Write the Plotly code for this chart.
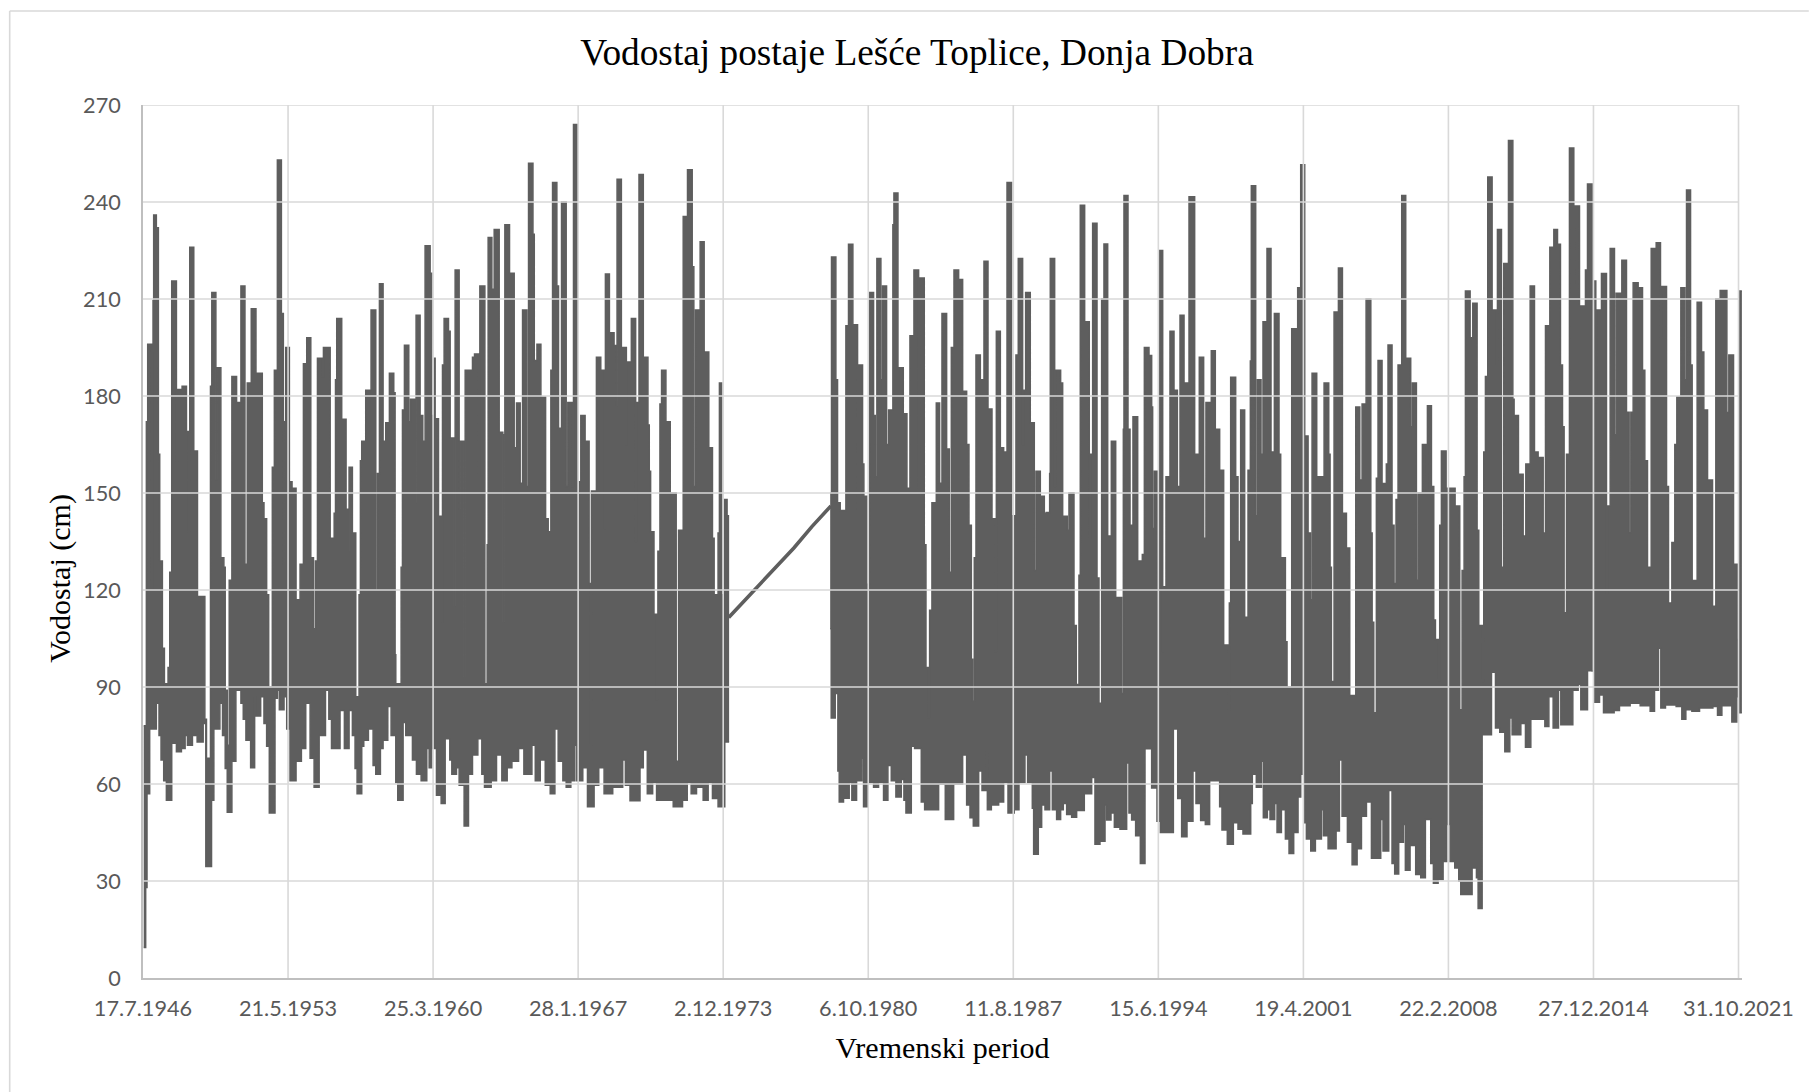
import plotly.graph_objects as go

# Days since 17.7.1946, water level (cm): outline of the dense daily record
upper_1946_1973 = [
(12,78),(58,172),(81,196),(150,120),(167,194),(173,209.5),(184,236),(230,232),(265,162),(288,129),(334,102),(369,91),
(432,96),(461,125.5),(495,215.6),(576,160),(593,182),(674,183),(749,169),(783,138),(806,226),(875,163),(939,118),
(1066,80),(1094,68),(1163,183),(1186,212),(1256,154),(1279,188.7),(1342,130),(1394,127),(1417,89),(1452,72),(1486,123),
(1532,186),(1613,178),(1688,214),(1757,128),(1797,184),(1866,207),(1947,187),(2056,147),(2085,142),(2131,118.5),
(2166,90),(2229,158),(2264,188),(2316,253),(2385,205.5),(2419,128),(2431,172),(2460,195),(2523,153.5),(2569,151.5),
(2638,117),(2707,128),(2765,190),(2822,198),(2892,130),(2938,108),(2972,129),(3007,191.7),(3087,186),(3110,195),
(3226,136),(3295,143.7),(3318,185),
(3339,204),(3425,172.8),(3500,145),(3529,132),(3552,158),(3609,137.6),(3667,87),(3724,118.5),(3747,160),(3770,166),
(3839,181.8),(3931,206.6),(4012,120),(4040,156),(4075,214.7),(4138,166),(4184,171.7),(4247,187),(4322,181),(4345,100),
(4357,91),(4449,127),(4472,175.7),(4506,195.7),(4581,172),(4610,179),(4684,147),(4707,205),(4776,174),(4822,166),
(4862,226.5),(4949,218),(4978,174),(5018,191.7),(5035,173),(5093,142.8),(5150,110),(5162,189.6),(5190,204),(5265,200),
(5294,167),(5357,115),(5380,219),(5449,145),(5466,166),(5530,93),(5553,188),(5679,192),(5714,193),(5783,155),(5806,214),
(5892,91),(5932,134),(5949,229),(6013,213),(6053,231.5),(6139,168.8),(6202,110),(6225,168),(6237,233),(6317,218),
(6398,164),(6438,177.8),(6501,153),(6542,206.6),(6616,152),(6645,252),
(6721,230),(6744,191),(6790,196),(6858,179.7),(6939,142),(6984,138),(7030,188),(7059,246),(7133,214),(7162,170),
(7214,240),(7294,152),(7322,178),(7403,152),(7420,264),(7483,153.5),(7546,174),(7620,166),(7689,122),(7706,72),
(7729,150.6),(7815,192),(7890,188),(7947,139),(7970,217.7),(8039,199.6),(8119,195.6),(8153,177),(8171,247),(8245,195),
(8331,165),(8342,190.5),(8417,204),(8491,135),(8509,178),(8549,248.5),(8623,192),(8703,171),(8726,156.7),(8749,138),
(8807,112.5),(8852,86),(8875,132),(8910,177.5),(8938,188),(9013,172),(9087,142),(9105,150),(9190,67),(9231,138.5),
(9311,235.5),(9385,250),(9466,220),(9494,152),(9523,206.6),(9603,227.7),(9672,193.6),(9752,164),(9815,136),(9844,118.5),
(9912,137.6),(9935,184),(9975,118.5),(10010,148),(10067,143),(10090,113),(10102,113),
]
lower_1946_1973 = [
(12,9.4),(46,28),(69,57),(115,77),(230,85),(276,75),(311,67.4),(357,61),(403,55),(495,72.6),(576,70),(662,71),(726,75),
(766,72),(852,75),(933,73),(1037,78.7),(1083,34.5),(1181,55),(1221,77),(1325,85),(1371,75),(1417,64.8),(1452,51.3),
(1532,67),(1601,89),(1688,85),(1728,80),(1774,73.5),(1855,65),(1924,87),(1947,81),(2028,87),(2085,78.7),(2131,71.7),
(2177,51),(2275,86.5),(2316,89),(2350,83),(2431,87),(2477,77),(2534,61),(2638,67),(2730,71),(2805,85),(2880,68),
(2949,59),(3036,75),(3145,89),(3203,80),(3249,71),
(3396,82.7),(3471,71),(3552,82.7),(3609,75),(3655,64.8),(3690,57),(3770,71.7),(3805,73.5),(3885,77),(3966,65.7),
(4012,63),(4092,71),(4138,73.5),(4219,84),(4276,75),(4357,60.5),(4391,55),(4483,79),(4529,75),(4644,67.4),(4713,63),
(4794,61),(4891,71),(4932,65),(4978,71),(5058,56.5),(5139,54),(5208,74),(5288,67.4),(5323,63),(5403,65),(5449,59.6),
(5535,47),(5610,63),(5679,69),(5771,74),(5840,63),(5886,59),(6001,61),(6093,69),(6185,61),(6277,65),(6358,67),(6473,71),
(6565,63),(6703,72),
(6761,61),(6847,67.4),(6933,59.6),(7019,57),(7099,77),(7156,67),(7237,61),(7294,59),(7374,61),(7443,72),(7477,61),
(7580,65),(7661,53),(7775,59.6),(7855,65),(7947,57),(8096,59),(8268,67.4),(8314,59.6),(8394,54.8),(8566,65),(8623,70.5),
(8692,57),(8784,60.5),(8852,55),(9139,53),(9299,55),(9380,60.5),(9448,57),(9540,59),(9655,55),(9741,60.5),(9815,55.5),
(9912,53),(10027,73),(10102,73),
]
# Thin stretch across the missing years
gap_days = [10095, 10546, 10908, 11218, 11529, 11857]
gap_levels = [111.5, 120, 127, 133, 139.6, 146]

upper_1978_2021 = [
(11844,150),(11867,223),(11942,185),(11971,147),(12017,144.6),(12115,201.7),(12160,226.9),(12235,202),(12316,145),
(12333,189.6),(12402,159),(12425,149),(12477,121.8),(12523,212),(12592,174),(12621,155),(12649,222.5),(12718,185),
(12747,214),(12816,165),(12851,175.7),(12925,233),(12943,242.8),(13012,188.7),(13104,174.5),(13167,151.5),(13219,198.6),
(13288,219),(13368,151.5),(13391,216.5),(13466,134),(13495,96),(13535,80.4),(13558,113.7),(13598,147),(13673,177.8),
(13730,153),(13771,205.5),(13851,163.6),(13897,125.5),(13932,195),(13978,219),(14058,216),(14127,181.5),(14196,165),
(14236,140),(14277,98.6),(14300,85.6),(14328,130),(14357,192.7),(14432,185),(14495,221.7),(14564,176),(14633,142),
(14685,101),(14708,200),(14777,164),(14834,162.7),(14892,246),
(14971,143),(15029,85),(15046,192.7),(15086,222.5),(15161,165),(15184,181.8),(15213,212),(15293,171.7),(15362,126),
(15391,156.7),(15466,149),(15535,143.7),(15569,144),(15627,156),(15638,222.5),(15713,152),(15736,188),(15816,184),
(15851,142.8),(15931,138.5),(15960,150),(16046,109),(16086,90.8),(16132,124.6),(16155,239),(16230,203),(16310,136),
(16333,162),(16368,233.4),(16443,123.7),(16477,85),(16523,210),(16563,227),(16627,136.7),(16690,166),(16765,117.7),
(16868,88),(16897,169.7),(16908,242),(16977,169.7),(17012,140),(17063,173.6),(17144,129),(17224,131),(17259,195),
(17339,192.5),(17385,176.6),(17402,139),(17431,156.7),(17489,121),(17517,225),(17575,101),(17598,121),(17632,155),
(17701,200),(17770,181.8),(17828,152),(17874,205),(17943,184),(18006,145),(18029,241.6),
(18126,162),(18206,192),(18281,136),(18321,178),(18413,194),(18482,169.7),(18557,157),(18626,103),(18701,83),(18724,116),
(18747,185.8),(18833,155),(18873,135),(18919,175.7),(18988,111.6),(19046,157),(19086,190.8),(19103,245),(19178,143),
(19207,185),(19270,162),(19304,203),(19373,225.6),(19442,162.7),(19500,205.5),(19580,162),(19609,130),(19690,104),
(19718,90),(19799,200.8),(19902,213.5),(19954,251.5),(20023,167.6),(20081,137.6),(20121,117),(20150,187),(20230,155),
(20311,155),(20357,184),(20437,162),(20460,127),(20483,91.7),(20529,206),(20604,219.6),(20673,143.7),(20742,133),
(20799,87.4),(20903,176.6),(20972,154),(21012,177.5),(21081,210),(21162,137.6),(21185,110),(21213,82),
(21258,154.6),(21287,191),(21356,152.9),(21430,159),(21459,195.8),(21528,140),(21563,122),(21597,148),(21632,189.6),
(21695,242),(21764,191.7),(21850,170.5),(21879,184),(21948,123),(21977,150),(22051,165),(22126,150),(22138,177),
(22207,152),(22247,110.7),(22276,104.7),(22333,92),(22350,140),(22379,163),(22460,151.5),(22615,146),(22695,83),
(22736,126),(22770,155),(22793,212.5),(22874,198),(22920,208.7),(22994,138.5),(23023,109),(23086,91.7),(23109,162.7),
(23138,186),(23178,247.7),(23253,206.6),(23322,190),(23345,231.5),(23414,127),(23454,221),(23535,259),(23610,179),
(23632,174),(23707,155.8),(23788,136.7),(23834,159),(23909,214),(23983,162.7),(24046,161),(24133,137.6),(24173,201.7),
(24248,226),(24317,231.5),(24380,226.9),
(24431,189.6),(24466,170.5),(24494,113),(24535,162),(24586,256.7),(24661,215),(24678,238.8),(24759,207.8),(24862,219),
(24897,245.6),(24977,95),(25012,215.6),(25040,178),(25058,206.6),(25138,217.9),(25224,119),(25247,146),(25288,225.6),
(25362,168),(25391,211.8),(25489,222),(25569,175),(25615,137.6),(25644,175),(25684,215),(25770,213.5),(25845,188),
(25885,160),(25931,127),(25995,225.6),(26081,227.4),(26155,198),(26178,213.9),(26259,152),(26293,116),(26351,134.7),
(26402,165),(26437,179.7),(26506,213.5),(26575,185),(26604,243.7),(26673,189.6),(26701,122.9),(26787,209),(26862,193.6),
(26902,175.7),(26966,154),(27052,115),(27109,210),(27184,212.6),(27299,174.9),(27333,192.7),(27414,128),(27477,104.7),
(27517,212.5),(27558,212.5),
]
lower_1978_2021 = [
(11844,108),(11862,80.4),(11931,88),(11977,64),(12000,54.4),(12074,55.6),(12172,60.5),(12218,55),(12299,61),(12391,68),
(12419,53),(12483,60.5),(12592,59),(12678,60.5),(12764,55),(12839,65.7),(12897,61),(12977,56),(13069,61.4),(13115,55),
(13150,51),(13242,71.7),(13299,71),(13414,54.4),(13472,52),(13713,60),(13828,49),(13972,60),(14127,69),(14196,53.5),
(14254,49.6),(14311,47),(14403,64),(14461,58),(14530,70),(14553,52),(14622,53.5),(14748,54.4),(14834,60.5),(14909,51),
(15017,52),(15098,60.5),(15201,69),(15247,60.5),(15328,52.5),(15351,38.3),(15431,46.6),(15489,53.5),(15546,52),(15627,64),
(15673,52),(15747,49),(15816,52),(15862,54),(15920,50.6),(16006,49.7),(16092,51.8),(16224,57),(16351,62),(16408,41.4),
(16494,42.3),(16581,53.5),(16609,48.9),(16684,51),(16742,46.6),(16839,46),(16954,66.5),(16994,51),(17040,48.9),(17109,44),
(17190,35.4),(17270,70.9),(17385,58.8),(17477,48.5),(17535,45),(17759,77),(17834,55.5),(17902,43.7),(17994,48.5),
(18097,64),(18149,54),(18229,48.7),(18310,47.5),(18384,61),(18557,53),(18597,45.8),(18689,41.4),(18793,48),(18873,46),
(18959,44.5),(19092,54),(19120,63),(19189,59),(19276,67),(19310,49.6),(19379,52),(19425,49),(19506,54),(19546,45),
(19621,52),(19690,43),(19753,38.5),(19833,45),(19908,56),(19954,63),(20023,48),(20052,43),(20127,39.3),(20207,43),
(20311,52),(20345,44),(20426,40),(20564,45.5),(20621,67.4),(20667,50),(20759,42),(20840,35),(20926,40),(21001,50),
(21087,54.4),(21173,37),
(21333,49),(21373,39.3),(21471,58),(21528,35.4),(21574,32.2),(21643,42),(21724,47.5),(21758,33.3),(21839,41),(21936,32),
(22023,31),(22103,49),(22195,35.4),(22241,29.3),(22322,30.5),(22408,36),(22471,47.5),(22529,36),(22609,34),(22678,30),
(22713,25.8),(22908,34),(22983,31),(23012,21.5),(23081,75.2),(23242,94.6),(23311,77.3),(23385,76),(23472,70),(23558,80.4),
(23598,75.2),(23748,78.7),(23828,71.4),(23920,80),(24162,77.8),(24231,87),(24305,77.3),
(24397,89),(24437,78.3),(24644,89),(24736,90.8),(24782,83),(24897,95),(25012,85.3),(25104,87.5),(25173,82),(25356,82.7),
(25448,84.2),(25632,85),(25805,84.2),(25977,82.5),(26052,89),(26121,102),(26161,83.5),(26241,84.4),(26425,84),(26523,80),
(26592,83),(26696,82.5),(26828,83.5),(27058,84),(27138,81.3),(27213,84.2),(27385,79.2),(27471,87),(27517,82),(27558,82),
]

x_tick_days = [0, 2500, 5000, 7500, 10000, 12500, 15000, 17500, 20000, 22500, 25000, 27500]
x_tick_labels = ["17.7.1946", "21.5.1953", "25.3.1960", "28.1.1967", "2.12.1973", "6.10.1980",
                 "11.8.1987", "15.6.1994", "19.4.2001", "22.2.2008", "27.12.2014", "31.10.2021"]
y_ticks = [0, 30, 60, 90, 120, 150, 180, 210, 240, 270]

TITLE = "Vodostaj postaje Lešće Toplice, Donja Dobra"
INK = "#5e5e5e"
GRID = "#d9d9d9"
AXIS = "#bfbfbf"
SERIF = "Liberation Serif"
W, H = 1809, 1092
# Plot box; the x range runs slightly past the last tick so the final strip shows
X_MAX = 27560
L, R, T, B = 143.3, 1742.2, 105, 978

fig = go.Figure()


def band(lower, upper):
    fig.add_trace(go.Scatter(x=[p[0] for p in lower], y=[p[1] for p in lower], mode="lines",
                             line=dict(color=INK, width=1.5, shape="hv"), hoverinfo="skip"))
    fig.add_trace(go.Scatter(x=[p[0] for p in upper], y=[p[1] for p in upper], mode="lines",
                             line=dict(color=INK, width=1.5, shape="hv"), fill="tonexty", fillcolor=INK,
                             hoverinfo="skip"))


band(lower_1946_1973, upper_1946_1973)
fig.add_trace(go.Scatter(x=gap_days, y=gap_levels, mode="lines", line=dict(color=INK, width=3.6), hoverinfo="skip"))
band(lower_1978_2021, upper_1978_2021)

# Gridlines run over the data in the reference
shapes = []
for v in y_ticks[1:]:
    shapes.append(dict(type="line", layer="above", xref="x", x0=0, x1=x_tick_days[-1], yref="y", y0=v, y1=v,
                       line=dict(color=GRID, width=1.6)))
for d in x_tick_days[1:]:
    shapes.append(dict(type="line", layer="above", yref="paper", y0=0, y1=1, xref="x", x0=d, x1=d,
                       line=dict(color=GRID, width=1.6)))
# Chart frame, top and left edges
shapes.append(dict(type="line", layer="below", xref="paper", yref="paper",
                   x0=(10 - L) / (R - L), x1=(W - L) / (R - L), y0=(B - 11) / (B - T), y1=(B - 11) / (B - T),
                   line=dict(color=GRID, width=1.6)))
shapes.append(dict(type="line", layer="below", xref="paper", yref="paper",
                   x0=(10 - L) / (R - L), x1=(10 - L) / (R - L), y0=(B - 11) / (B - T), y1=(B - H) / (B - T),
                   line=dict(color=GRID, width=1.6)))

axis_font = dict(family="Lato", size=21.7, color="#595959")
fig.update_layout(
    width=W, height=H, autosize=False, showlegend=False,
    paper_bgcolor="white", plot_bgcolor="white",
    margin=dict(l=L, r=W - R, t=T, b=H - B, pad=0),
    title=dict(text=TITLE, x=917 / W, xanchor="center", y=1 - 52 / H, yanchor="middle",
               font=dict(family=SERIF, size=37.3, color="#000000")),
    shapes=shapes,
    annotations=[dict(text="Vodostaj (cm)", textangle=-90, showarrow=False, xref="paper", yref="paper",
                      x=(60 - L) / (R - L), y=(B - 578) / (B - T), xanchor="center", yanchor="middle",
                      font=dict(family=SERIF, size=30, color="#000000"))],
    xaxis=dict(range=[0, X_MAX], tickmode="array", tickvals=x_tick_days, ticktext=x_tick_labels,
               showgrid=False, zeroline=False, showline=True, linecolor=AXIS, linewidth=1.6, ticks="",
               layer="above traces", tickfont=axis_font, ticklabelstandoff=10, tickangle=0,
               title=dict(text="Vremenski period", font=dict(family=SERIF, size=30, color="#000000"), standoff=17)),
    yaxis=dict(range=[0, 270], tickmode="array", tickvals=y_ticks, ticktext=[str(v) for v in y_ticks],
               showgrid=False, zeroline=False, showline=True, linecolor=AXIS, linewidth=1.6, ticks="",
               layer="above traces", tickfont=axis_font, ticklabelstandoff=16),
)

fig.write_html("out.html", config={"displayModeBar": False},
               post_script="document.body.style.margin='0';document.documentElement.style.overflow='hidden';")
